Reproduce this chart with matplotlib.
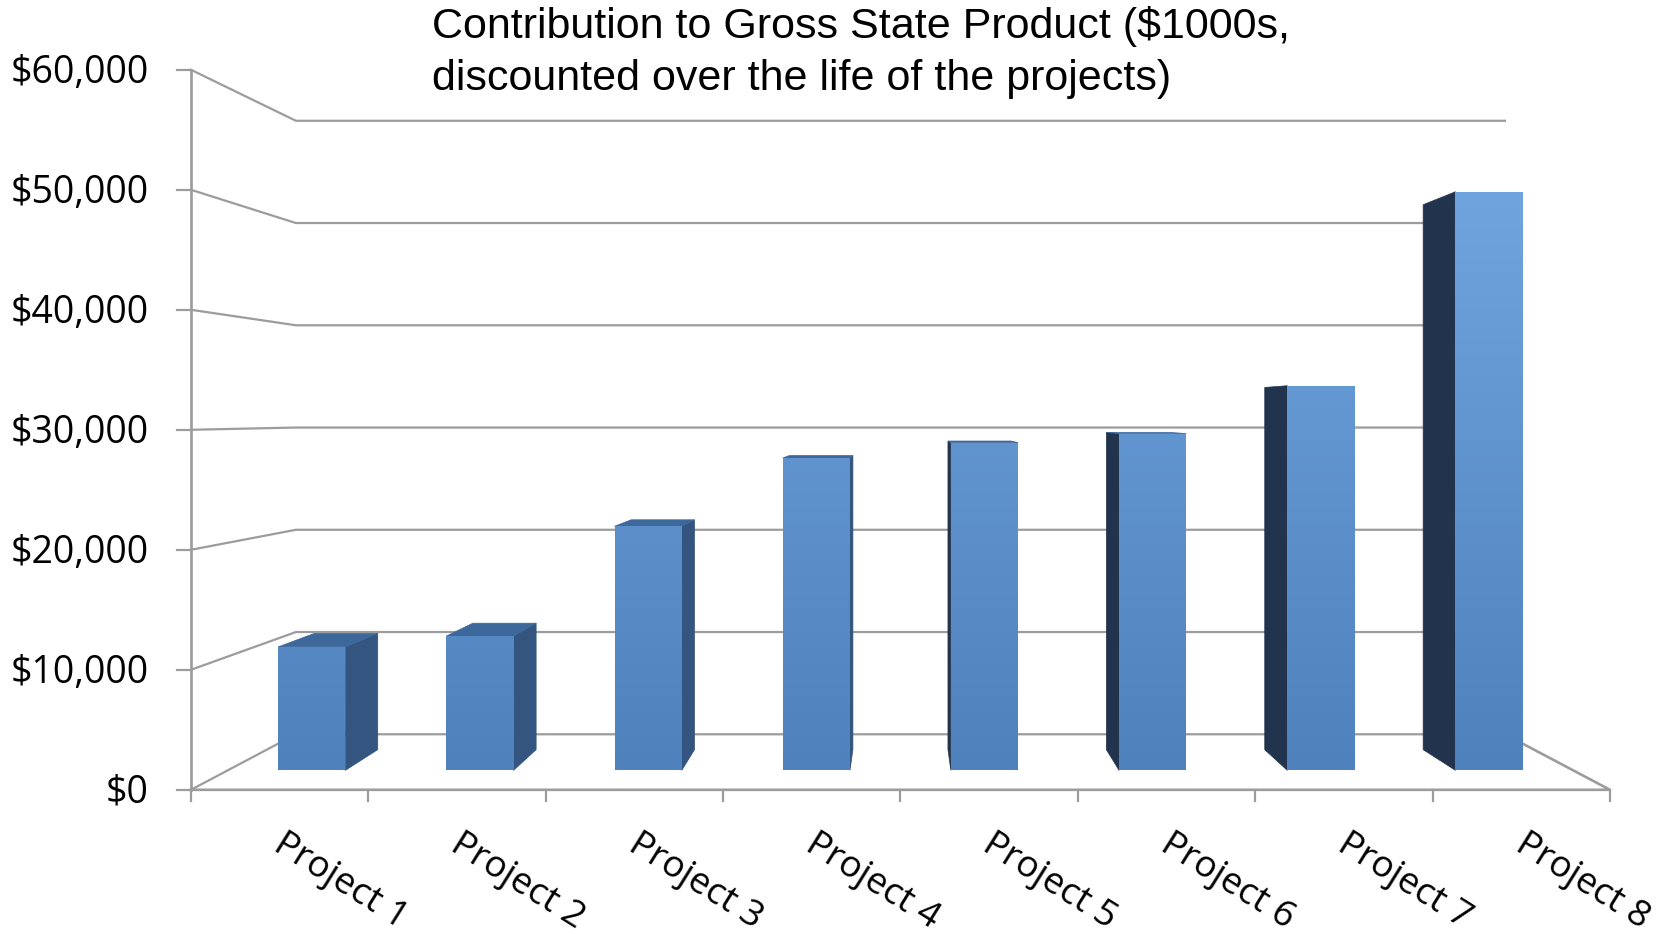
import numpy as np
import matplotlib
matplotlib.use("Agg")
import matplotlib.pyplot as plt
from matplotlib.patches import Polygon

# ---------------- data ----------------
categories = ["Project 1", "Project 2", "Project 3", "Project 4",
              "Project 5", "Project 6", "Project 7", "Project 8"]
values = [10850, 11800, 21450, 27450, 28800, 29600, 33800, 50850]
ytick_values = [0, 10000, 20000, 30000, 40000, 50000, 60000]
ytick_labels = ["$0", "$10,000", "$20,000", "$30,000", "$40,000", "$50,000", "$60,000"]
title = "Contribution to Gross State Product ($1000s,\ndiscounted over the life of the projects)"

# ---------------- layout (reference pixel space 1568x881) ----------------
W, H = 1568, 881
FRONT_LEFT, FRONT_RIGHT = 180.0, 1518.0
Y_ZERO = 745.0
PX_PER_UNIT = 113.2 / 10000.0
EYE_X = (FRONT_LEFT + FRONT_RIGHT) / 2
EYE_Y = 391.0
BACK_SCALE = 0.852
K = 1.0 / BACK_SCALE - 1.0
CAT_W = (FRONT_RIGHT - FRONT_LEFT) / len(categories)
BAR_HALF = 0.2          # in category units
Z_FRONT, Z_BACK = 0.315, 0.69   # bar depth fraction of floor depth

GRID = "#9c9c9c"
FRONT_BOTTOM = np.array([79, 129, 189]) / 255
FRONT_TOP = np.array([111, 164, 222]) / 255
RIGHT_SIDE = "#33557f"
LEFT_SIDE = "#22344d"
TOP_FACE = "#3d689c"


def proj(xc, v, z):
    X = FRONT_LEFT + xc * CAT_W
    Y = Y_ZERO - v * PX_PER_UNIT
    s = 1.0 / (1.0 + K * z)
    return (EYE_X + s * (X - EYE_X), EYE_Y + s * (Y - EYE_Y))


fig = plt.figure(figsize=(16.63, 9.34), dpi=100)
ax = fig.add_axes([0, 0, 1, 1])
ax.set_xlim(0, W)
ax.set_ylim(H, 0)
ax.axis("off")

n = len(categories)
# walls / gridlines
for v in ytick_values:
    p0 = proj(0, v, 0)
    p1 = proj(0, v, 1)
    p2 = proj(n, v, 1)
    ax.plot([p0[0], p1[0], p2[0]], [p0[1], p1[1], p2[1]], color=GRID, lw=1.6,
            solid_joinstyle="miter", zorder=1)
    ax.plot([p0[0] - 13, p0[0]], [p0[1], p0[1]], color=GRID, lw=1.6, zorder=1)
for v, lab in zip(ytick_values, ytick_labels):
    p0 = proj(0, v, 0)
    ax.text(p0[0] - 40, p0[1] + 3, lab, ha="right", va="center", fontsize=27,
            family="Open Sans", color="black")

# floor
a = proj(0, 0, 0); b = proj(n, 0, 0); c = proj(n, 0, 1)
ax.plot([a[0], b[0], c[0]], [a[1], b[1], c[1]], color=GRID, lw=1.9, zorder=1)
# y axis
top = proj(0, ytick_values[-1], 0)
ax.plot([a[0], top[0]], [a[1], top[1]], color=GRID, lw=1.9, zorder=1)
# category ticks
for i in range(n + 1):
    p = proj(i, 0, 0)
    ax.plot([p[0], p[0]], [p[1], p[1] + 11], color=GRID, lw=1.6, zorder=1)

# gradient image for front faces
yy = np.linspace(0, H, 400)
t = np.clip((727 - yy) / (727 - 181), -0.2, 1.2)
grad = FRONT_BOTTOM[None, :] + t[:, None] * (FRONT_TOP - FRONT_BOTTOM)[None, :]
grad = np.clip(grad, 0, 1)
grad_img = np.repeat(grad[:, None, :], 2, axis=1)

# bars
for i, v in enumerate(values):
    xl = i + 0.5 - BAR_HALF
    xr = i + 0.5 + BAR_HALF
    fl0 = proj(xl, 0, Z_FRONT); fr0 = proj(xr, 0, Z_FRONT)
    fl1 = proj(xl, v, Z_FRONT); fr1 = proj(xr, v, Z_FRONT)
    bl0 = proj(xl, 0, Z_BACK); br0 = proj(xr, 0, Z_BACK)
    bl1 = proj(xl, v, Z_BACK); br1 = proj(xr, v, Z_BACK)
    Xl = FRONT_LEFT + xl * CAT_W
    Xr = FRONT_LEFT + xr * CAT_W
    if Xr < EYE_X:
        ax.add_patch(Polygon([fr0, br0, br1, fr1], closed=True, fc=RIGHT_SIDE,
                             ec=RIGHT_SIDE, lw=0.5, zorder=3))
    if Xl > EYE_X:
        ax.add_patch(Polygon([fl0, bl0, bl1, fl1], closed=True, fc=LEFT_SIDE,
                             ec=LEFT_SIDE, lw=0.5, zorder=3))
    if fl1[1] > EYE_Y:
        ax.add_patch(Polygon([fl1, fr1, br1, bl1], closed=True, fc=TOP_FACE,
                             ec=TOP_FACE, lw=0.5, zorder=3))
    front = Polygon([fl0, fr0, fr1, fl1], closed=True, fc="none", ec="none", zorder=4)
    ax.add_patch(front)
    im = ax.imshow(grad_img, extent=[0, W, H, 0], aspect="auto", zorder=4,
                   interpolation="bilinear")
    im.set_clip_path(front)

# category labels
for i, lab in enumerate(categories):
    xc = FRONT_LEFT + (i + 0.5) * CAT_W
    ax.text(xc + 6, 780, lab, rotation=-32, rotation_mode="anchor",
            ha="left", va="top", fontsize=26.5, family="Open Sans", color="black")

ax.text(407, 6, title, ha="left", va="top", fontsize=31,
        family="Liberation Sans", color="black", linespacing=1.38)

ax.set_xlim(0, W)
ax.set_ylim(H, 0)
fig.savefig("out.png", dpi=100)
